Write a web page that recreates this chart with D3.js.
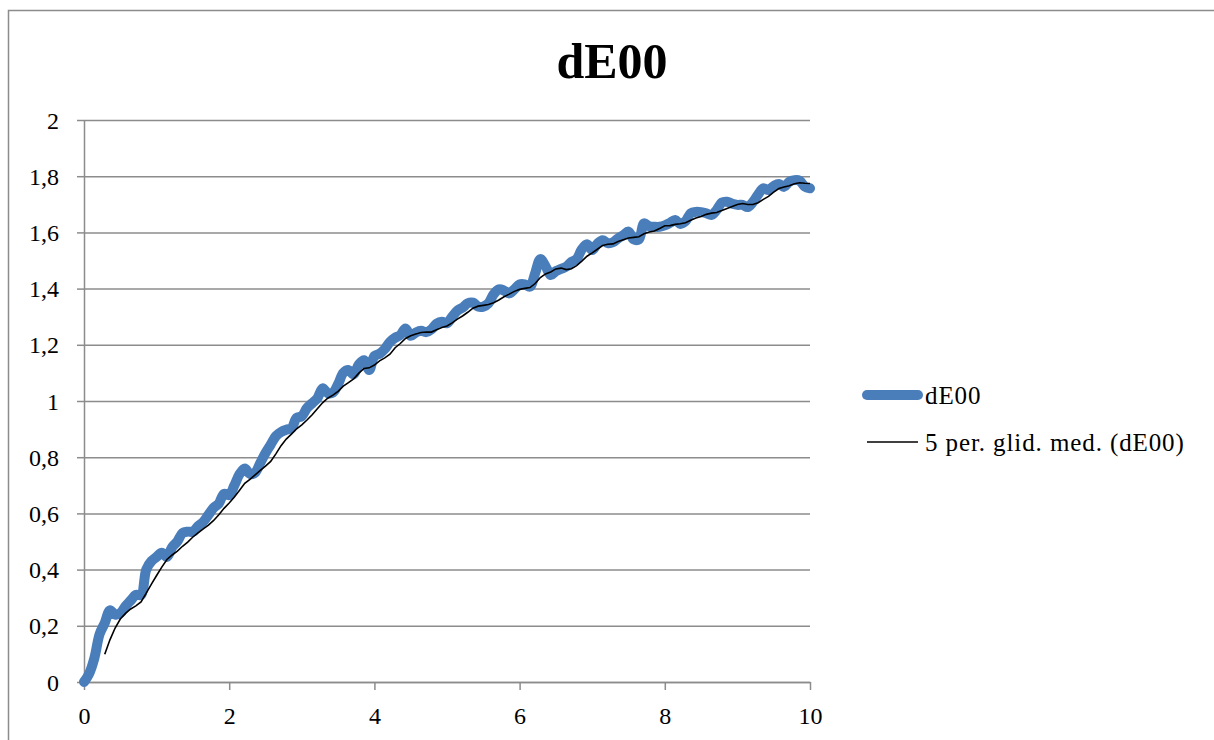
<!DOCTYPE html>
<meta charset="utf-8">
<style>
body { margin: 0; background: #fff; }
.grid line { stroke: #8c8c8c; stroke-width: 1.5px; }
.axis text { font-family: "Liberation Serif", serif; font-size: 24px; fill: #000; }
.legend text { font-family: "Liberation Serif", serif; font-size: 25px; letter-spacing: 0.9px; fill: #000; }
</style>
<body>
<script src="https://d3js.org/d3.v7.min.js"></script>
<script>

// samples every 1/14 of a unit, 0 .. 10
var step = 1 / 14;
var dE00 = [
  0.000, 0.030, 0.085, 0.170, 0.210, 0.255, 0.240, 0.245, 0.270, 0.290,
  0.310, 0.310, 0.400, 0.430, 0.445, 0.460, 0.445, 0.480, 0.500, 0.530,
  0.535, 0.535, 0.555, 0.570, 0.595, 0.620, 0.635, 0.670, 0.665, 0.700,
  0.740, 0.760, 0.740, 0.745, 0.780, 0.815, 0.845, 0.875, 0.890, 0.898,
  0.903, 0.940, 0.946, 0.975, 0.992, 1.010, 1.045, 1.028, 1.030, 1.060,
  1.100, 1.110, 1.095, 1.130, 1.145, 1.110, 1.160, 1.168, 1.185, 1.210,
  1.225, 1.235, 1.258, 1.232, 1.244, 1.250, 1.245, 1.255, 1.275, 1.282,
  1.277, 1.300, 1.322, 1.332, 1.348, 1.350, 1.336, 1.336, 1.348, 1.380,
  1.397, 1.393, 1.383, 1.398, 1.415, 1.415, 1.407, 1.455, 1.505, 1.480,
  1.448, 1.462, 1.470, 1.478, 1.495, 1.505, 1.540, 1.558, 1.537, 1.560,
  1.572, 1.562, 1.565, 1.579, 1.590, 1.603, 1.575, 1.575, 1.632, 1.622,
  1.620, 1.620, 1.625, 1.634, 1.644, 1.630, 1.640, 1.668, 1.673, 1.672,
  1.668, 1.662, 1.680, 1.706, 1.709, 1.702, 1.698, 1.698, 1.690, 1.708,
  1.735, 1.757, 1.751, 1.765, 1.772, 1.762, 1.780, 1.786, 1.784, 1.763,
  1.757
];
var period = 5;
var xTicks = [0, 2, 4, 6, 8, 10];
var yTicks = [0, 0.2, 0.4, 0.6, 0.8, 1, 1.2, 1.4, 1.6, 1.8, 2];
var title = "dE00";
var seriesName = "dE00";
var trendName = "5 per. glid. med. (dE00)";

var blue = "#4a7ebb";

var svg = d3.select("body").append("svg")
    .attr("width", 1214)
    .attr("height", 740);

// chart frame
svg.append("rect")
    .attr("x", 8.5).attr("y", 10.5)
    .attr("width", 1300).attr("height", 800)
    .attr("fill", "none")
    .attr("stroke", "#8c8c8c")
    .attr("stroke-width", 1.5);

var x = d3.scaleLinear().domain([0, 10]).range([84, 810]);
var y = d3.scaleLinear().domain([0, 2]).range([682, 120]);

var data = dE00.map(function(v, i) { return {x: i * step, y: v}; });

// moving average trendline
var avg = [];
for (var i = period - 1; i < data.length; i++) {
  avg.push({x: data[i].x, y: d3.mean(data.slice(i - period + 1, i + 1), function(d) { return d.y; })});
}

// horizontal gridlines + y labels
svg.append("g")
    .attr("class", "grid")
    .attr("transform", "translate(84,0)")
    .call(d3.axisLeft(y).tickValues(yTicks).tickSize(-726).tickSizeOuter(0).tickFormat(""))
    .call(function(g) { g.select(".domain").remove(); });

svg.append("g")
    .attr("class", "grid")
    .attr("transform", "translate(84,0)")
    .call(d3.axisLeft(y).tickValues(yTicks).tickSize(7).tickSizeOuter(0).tickFormat(""))
    .call(function(g) { g.select(".domain").attr("stroke", "#8c8c8c").attr("stroke-width", 1.5); });

svg.append("g")
    .attr("class", "axis")
    .attr("transform", "translate(59,0)")
    .call(d3.axisLeft(y).tickValues(yTicks).tickSize(0)
      .tickFormat(function(d) { return String(+d.toFixed(1)).replace(".", ","); }))
    .call(function(g) {
      g.select(".domain").remove();
      g.selectAll("text").attr("x", 0).attr("dy", "0.34em");
    });

// x axis
svg.append("g")
    .attr("class", "axis grid")
    .attr("transform", "translate(0,682)")
    .call(d3.axisBottom(x).tickValues(xTicks).tickSize(8).tickSizeOuter(0).tickPadding(17))
    .call(function(g) {
      g.select(".domain").attr("stroke", "#8c8c8c").attr("stroke-width", 1.5);
    });

// series
var line = d3.line()
    .x(function(d) { return x(d.x); })
    .y(function(d) { return y(d.y); });

svg.append("path")
    .datum(data)
    .attr("fill", "none")
    .attr("stroke", blue)
    .attr("stroke-width", 10)
    .attr("stroke-linecap", "round")
    .attr("stroke-linejoin", "round")
    .attr("d", line.curve(d3.curveCatmullRom.alpha(0.5)));

svg.append("path")
    .datum(avg)
    .attr("fill", "none")
    .attr("stroke", "#000")
    .attr("stroke-width", 1.6)
    .attr("d", line.curve(d3.curveLinear));

// title
svg.append("text")
    .attr("x", 612).attr("y", 78)
    .attr("text-anchor", "middle")
    .style("font-family", "'Liberation Serif', serif")
    .style("font-weight", "bold")
    .style("font-size", "50px")
    .text(title);

// legend
var legend = svg.append("g").attr("class", "legend");
var items = [
  {name: seriesName, color: blue, width: 10, x1: 867, x2: 918, cy: 395},
  {name: trendName, color: "#000", width: 1.6, x1: 867, x2: 918, cy: 442}
];
items.forEach(function(it) {
  legend.append("line")
      .attr("x1", it.x1).attr("x2", it.x2)
      .attr("y1", it.cy).attr("y2", it.cy)
      .attr("stroke", it.color)
      .attr("stroke-width", it.width)
      .attr("stroke-linecap", it.width > 2 ? "round" : "butt");
  legend.append("text")
      .attr("x", 925).attr("y", it.cy)
      .attr("dy", "0.34em")
      .text(it.name);
});

</script>
</body>
